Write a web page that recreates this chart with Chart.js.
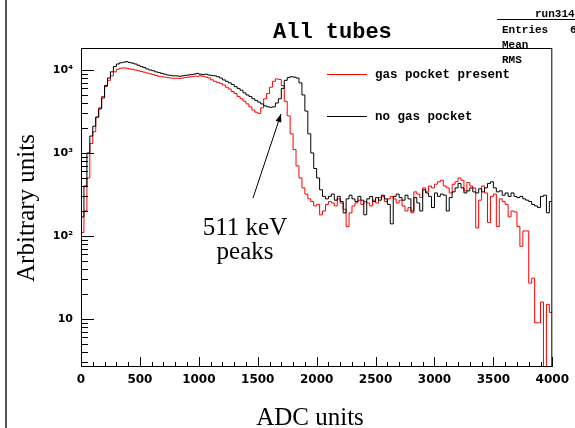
<!DOCTYPE html>
<html lang="en">
<head>
<meta charset="UTF-8">
<title>All tubes</title>
<script src="https://cdn.jsdelivr.net/npm/chart.js"></script>
<style>
  html, body { margin: 0; padding: 0; background: #fff; }
  #wrap { width: 575px; height: 428px; }
</style>
</head>
<body>
<div id="wrap"><canvas id="grafico" width="575" height="428"></canvas></div>

<script>
// histogram bins: 25 ADC counts wide, 0 .. 4000
var binWidth = 25;
var seriesNames = ['gas pocket present', 'no gas pocket'];

// red: gas pocket present
var redCounts = [
  110, 200, 500, 1300, 1800, 2700, 3500, 4800, 6300, 7500, 8500, 9500, 10200, 10500, 10600, 10500,
  10300, 10200, 10000, 9800, 9600, 9400, 9200, 9000, 8800, 8600, 8400, 8300, 8200, 8100, 8000, 7950,
  7950, 7900, 8000, 8100, 8200, 8300, 8400, 8400, 8500, 8400, 8200, 8000, 7600, 7300, 7100, 6900,
  6600, 6200, 5900, 5500, 5200, 4800, 4500, 4200, 3900, 3600, 3300, 3100, 3000, 3500, 4500, 5200,
  6200, 7300, 7800, 7700, 6500, 4200, 2800, 1700, 1100, 700, 500, 380, 320, 280, 260, 230,
  240, 180, 200, 240, 260, 250, 230, 280, 250, 210, 130, 190, 230, 250, 270, 240,
  260, 250, 230, 270, 250, 290, 300, 260, 280, 300, 280, 250, 270, 230, 200, 220,
  190, 340, 320, 290, 380, 340, 400, 380, 420, 450, 470, 400, 380, 330, 420, 450,
  500, 470, 350, 440, 400, 380, 125, 270, 400, 330, 145, 300, 320, 130, 280, 260,
  240, 170, 200, 195, 130, 75, 115, 115, 27, 31, 9, 9, 16, 1, 15, 12
];

// black: no gas pocket
var blackCounts = [
  170, 400, 1000, 1600, 2100, 2700, 3400, 4600, 6500, 8000, 9500, 11000, 11800, 12200, 12400, 12600,
  12300, 12100, 11800, 11400, 11000, 10700, 10300, 10000, 9800, 9500, 9300, 9100, 8900, 8700, 8600, 8500,
  8500, 8400, 8500, 8600, 8700, 8800, 8900, 9100, 8900, 8800, 8900, 8700, 8600, 8500, 8300, 8000,
  7600, 7300, 7000, 6700, 6300, 6000, 5700, 5300, 5000, 4800, 4500, 4300, 4100, 3900, 3700, 3600,
  3550, 3600, 4000, 4500, 6000, 7500, 8100, 8300, 8200, 8000, 7000, 5000, 3200, 1700, 1000, 650,
  500, 360, 300, 280, 300, 320, 270, 300, 260, 190, 280, 310, 280, 260, 300, 270,
  180, 280, 300, 260, 290, 270, 310, 280, 240, 140, 300, 320, 290, 270, 310, 280,
  200, 290, 250, 200, 360, 330, 300, 220, 330, 300, 320, 310, 200, 290, 340, 380,
  430, 380, 330, 350, 380, 340, 330, 370, 340, 380, 430, 450, 380, 340, 350, 310,
  330, 300, 330, 300, 290, 300, 280, 270, 260, 240, 230, 220, 300, 310, 190, 260
];

var xMin = 0, xMax = 4000;
var yMin = 2.64, yMax = 18400;
var xMajorStep = 500, xMinorStep = 100;
var supDigits = ['\u2070', '\u00B9', '\u00B2', '\u00B3', '\u2074'];

// bin low edges + closing edge so the last step is drawn
function toSteps(counts) {
    var pts = [];
    for (var i = 0; i < counts.length; i++) {
        pts.push({ x: i * binWidth, y: counts[i] });
    }
    pts.push({ x: counts.length * binWidth, y: counts[counts.length - 1] });
    return pts;
}

var monoFont = '"Liberation Mono", "Courier New", monospace';
var serifFont = '"Liberation Serif", "Times New Roman", serif';

var rootLook = {
    id: 'rootLook',
    beforeDraw: function (chart) {
        var c = chart.ctx;
        c.save();
        c.fillStyle = '#ffffff';
        c.fillRect(0, 0, chart.width, chart.height);
        c.restore();
    },
    afterDraw: function (chart) {
        var ctx = chart.ctx;
        var a = chart.chartArea;
        var xs = chart.scales.x;
        var ys = chart.scales.y;
        ctx.save();

        // frame
        ctx.strokeStyle = '#000';
        ctx.lineWidth = 1;
        ctx.strokeRect(a.left + 0.5, a.top + 0.5, a.right - a.left - 1, a.bottom - a.top - 1);

        // ticks inside the frame
        ctx.beginPath();
        xs.ticks.forEach(function (t) {
            var px = Math.round(xs.getPixelForValue(t.value)) + 0.5;
            var len = (t.value % xMajorStep === 0) ? 10 : 5;
            ctx.moveTo(px, a.bottom);
            ctx.lineTo(px, a.bottom - len);
        });
        for (var e = 0; e <= 4; e++) {
            for (var m = 1; m <= 9; m++) {
                var v = m * Math.pow(10, e);
                if (v < yMin || v > yMax) continue;
                var py = Math.round(ys.getPixelForValue(v)) + 0.5;
                ctx.moveTo(a.left, py);
                ctx.lineTo(a.left + (m === 1 ? 13 : 7), py);
            }
        }
        ctx.stroke();

        // left page border
        ctx.fillStyle = '#555';
        ctx.fillRect(5, 0, 2, chart.height);

        // title
        ctx.fillStyle = '#000';
        ctx.font = 'bold 22px ' + monoFont;
        ctx.textAlign = 'left';
        ctx.textBaseline = 'alphabetic';
        ctx.fillText('All tubes', 273, 38);

        // stats box (cut at the right edge)
        ctx.font = 'bold 11px ' + monoFont;
        ctx.fillText('run314', 535, 17);
        ctx.fillText('Entries', 502, 33);
        ctx.fillText('6', 570, 33);
        ctx.fillText('Mean', 502, 48);
        ctx.fillText('RMS', 502, 63);
        ctx.beginPath();
        ctx.moveTo(497, 19.5);
        ctx.lineTo(575, 19.5);
        ctx.stroke();

        // legend
        var legY = [74.5, 116.5];
        ctx.font = 'bold 12.5px ' + monoFont;
        chart.data.datasets.forEach(function (ds, i) {
            ctx.strokeStyle = ds.borderColor;
            ctx.beginPath();
            ctx.moveTo(327, legY[i]);
            ctx.lineTo(367, legY[i]);
            ctx.stroke();
            ctx.fillStyle = '#000';
            ctx.fillText(ds.label, 375, legY[i] + 3.5);
        });

        // axis titles
        ctx.font = '25px ' + serifFont;
        ctx.textAlign = 'center';
        ctx.fillText('ADC units', 310, 425);
        ctx.save();
        ctx.translate(27, 208);
        ctx.rotate(-Math.PI / 2);
        ctx.textBaseline = 'middle';
        ctx.fillText('Arbitrary units', 0, 0);
        ctx.restore();

        // annotation
        ctx.fillText('511 keV', 245, 235);
        ctx.fillText('peaks', 245, 259);
        var x0 = 253, y0 = 198, x1 = 281, y1 = 114;
        ctx.strokeStyle = '#000';
        ctx.beginPath();
        ctx.moveTo(x0, y0);
        ctx.lineTo(x1, y1);
        ctx.stroke();
        var ang = Math.atan2(y1 - y0, x1 - x0);
        ctx.beginPath();
        ctx.moveTo(x1, y1);
        ctx.lineTo(x1 - 8 * Math.cos(ang) + 3 * Math.sin(ang), y1 - 8 * Math.sin(ang) - 3 * Math.cos(ang));
        ctx.lineTo(x1 - 8 * Math.cos(ang) - 3 * Math.sin(ang), y1 - 8 * Math.sin(ang) + 3 * Math.cos(ang));
        ctx.closePath();
        ctx.fill();

        ctx.restore();
    }
};

var config = {
    type: 'line',
    data: {
        datasets: [{
            label: seriesNames[0],
            data: toSteps(redCounts),
            borderColor: '#ff0000',
            borderWidth: 1,
            pointRadius: 0,
            stepped: true,
            fill: false,
            order: 2
        }, {
            label: seriesNames[1],
            data: toSteps(blackCounts),
            borderColor: '#000000',
            borderWidth: 1,
            pointRadius: 0,
            stepped: true,
            fill: false,
            order: 1
        }]
    },
    options: {
        responsive: false,
        animation: false,
        layout: { padding: { left: 0, right: 18, top: 48, bottom: 0 } },
        plugins: {
            legend: { display: false },
            tooltip: { enabled: false },
            title: { display: false }
        },
        scales: {
            x: {
                type: 'linear',
                min: xMin,
                max: xMax,
                grid: { display: false, drawTicks: false },
                border: { display: false },
                ticks: {
                    stepSize: xMinorStep,
                    autoSkip: false,
                    maxRotation: 0,
                    padding: 6,
                    color: '#000',
                    font: { family: 'DejaVu Sans', weight: 'bold', size: 12 },
                    callback: function (v) { return v % xMajorStep === 0 ? String(v) : ''; }
                },
                afterFit: function (s) { s.height = 61; }
            },
            y: {
                type: 'logarithmic',
                min: yMin,
                max: yMax,
                grid: { display: false, drawTicks: false },
                border: { display: false },
                ticks: {
                    autoSkip: false,
                    padding: 8,
                    color: '#000',
                    font: { family: 'DejaVu Sans', weight: 'bold', size: 11 },
                    callback: function (v) {
                        var e = Math.log10(v);
                        var r = Math.round(e);
                        if (Math.abs(e - r) > 1e-9 || r < 1) return '';
                        return r === 1 ? '10' : '10' + supDigits[r];
                    }
                },
                afterFit: function (s) { s.width = 81; }
            }
        }
    },
    plugins: [rootLook]
};

var ctx = document.getElementById('grafico').getContext('2d');
var myChart = new Chart(ctx, config);
</script>
</body>
</html>
